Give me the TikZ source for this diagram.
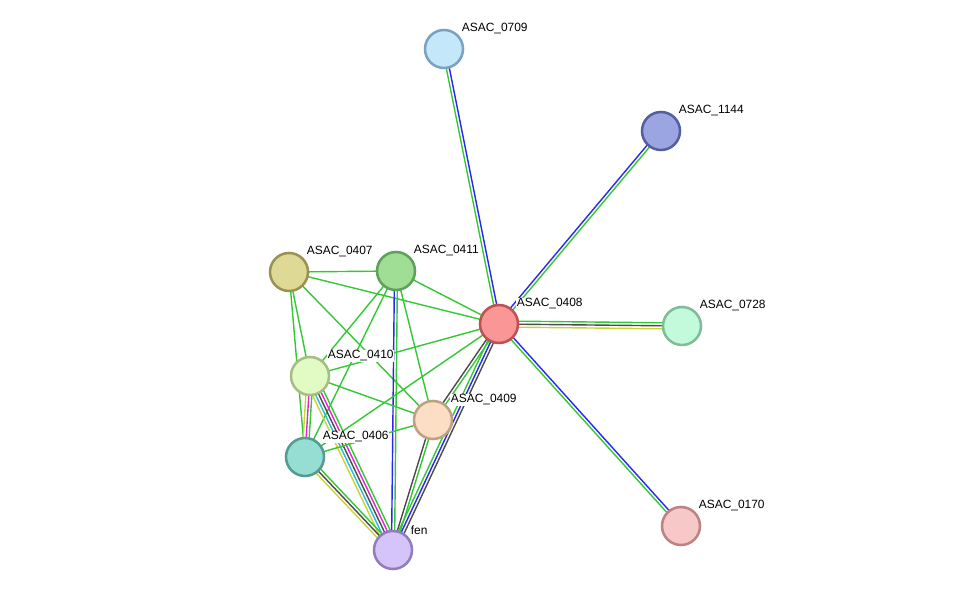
\documentclass[tikz,border=0pt]{standalone}
\usepackage{fontspec}
\setmainfont{Liberation Sans}
\usetikzlibrary{calc, backgrounds}

\definecolor{lgreen}{RGB}{52,200,52}
\definecolor{lblue}{RGB}{40,40,245}
\definecolor{lgrey}{RGB}{75,75,75}
\definecolor{lyellow}{RGB}{200,212,50}
\definecolor{lmagenta}{RGB}{225,40,205}
\definecolor{lcyan}{RGB}{40,185,225}

% parallel evidence lines between two proteins: from, to, count, colours
\newcommand{\linkedge}[4]{%
  \foreach \c [count=\i] in {#4} {
    \pgfmathsetmacro{\off}{(\i-(#3+1)/2)*0.075}
    \draw[link,\c] ($(#1)!\off cm!90:(#2)$) -- ($(#2)!\off cm!-90:(#1)$);
  }}

\begin{document}
\begin{tikzpicture}[
    x=0.025cm, y=-0.025cm,
    font=\fontsize{8.5}{10}\selectfont,
    prot/.style = {circle, line width=1.8pt, minimum size=0.95cm, inner sep=0pt},
    link/.style = {line width=1pt},
    lbl/.style  = {anchor=west, fill=white, inner sep=0.4pt}
  ]
  \useasboundingbox (0,0) rectangle (975,596);

  % --- proteins ---
  \node[prot, draw={rgb,255:red,122;green,162;blue,192}, fill={rgb,255:red,196;green,232;blue,250}] (p0709) at (444,49)  {};
  \node[prot, draw={rgb,255:red,85;green,95;blue,160},   fill={rgb,255:red,155;green,165;blue,226}] (p1144) at (661,131) {};
  \node[prot, draw={rgb,255:red,190;green,82;blue,82},   fill={rgb,255:red,250;green,150;blue,150}] (p0408) at (499,324) {};
  \node[prot, draw={rgb,255:red,125;green,190;blue,150}, fill={rgb,255:red,196;green,250;blue,220}] (p0728) at (682,326) {};
  \node[prot, draw={rgb,255:red,190;green,130;blue,130}, fill={rgb,255:red,246;green,200;blue,200}] (p0170) at (681,526) {};
  \node[prot, draw={rgb,255:red,152;green,147;blue,82},  fill={rgb,255:red,222;green,218;blue,150}] (p0407) at (289,272) {};
  \node[prot, draw={rgb,255:red,95;green,160;blue,90},   fill={rgb,255:red,160;green,222;blue,150}] (p0411) at (396,271) {};
  \node[prot, draw={rgb,255:red,165;green,190;blue,130}, fill={rgb,255:red,226;green,250;blue,196}] (p0410) at (310,376) {};
  \node[prot, draw={rgb,255:red,190;green,160;blue,130}, fill={rgb,255:red,252;green,222;blue,196}] (p0409) at (433,420) {};
  \node[prot, draw={rgb,255:red,85;green,155;blue,145},  fill={rgb,255:red,150;green,222;blue,212}] (p0406) at (305,457) {};
  \node[prot, draw={rgb,255:red,145;green,125;blue,190}, fill={rgb,255:red,212;green,196;blue,250}] (pfen)  at (393,550) {};

  % --- interactions ---
  \begin{scope}[on background layer]
    \linkedge{p0709}{p0408}{2}{lgreen,lblue}
    \linkedge{p1144}{p0408}{2}{lblue,lgreen}
    \linkedge{p0408}{p0728}{3}{lyellow,lgrey,lgreen}
    \linkedge{p0408}{p0170}{2}{lgreen,lblue}
    \linkedge{p0407}{p0411}{1}{lgreen}
    \linkedge{p0407}{p0408}{1}{lgreen}
    \linkedge{p0407}{p0410}{1}{lgreen}
    \linkedge{p0407}{p0406}{1}{lgreen}
    \linkedge{p0407}{p0409}{1}{lgreen}
    \linkedge{p0411}{p0408}{1}{lgreen}
    \linkedge{p0411}{p0410}{1}{lgreen}
    \linkedge{p0411}{p0406}{1}{lgreen}
    \linkedge{p0411}{p0409}{1}{lgreen}
    \linkedge{p0411}{pfen}{2}{lblue,lgreen}
    \linkedge{p0410}{p0408}{1}{lgreen}
    \linkedge{p0410}{p0409}{1}{lgreen}
    \linkedge{p0410}{p0406}{3}{lyellow,lmagenta,lgreen}
    \linkedge{p0410}{pfen}{5}{lyellow,lcyan,lgrey,lmagenta,lgreen}
    \linkedge{p0406}{p0408}{1}{lgreen}
    \linkedge{p0406}{p0409}{1}{lgreen}
    \linkedge{p0406}{pfen}{3}{lyellow,lgrey,lgreen}
    \linkedge{p0409}{p0408}{2}{lgreen,lgrey}
    \linkedge{p0409}{pfen}{2}{lgrey,lgreen}
    \linkedge{p0408}{pfen}{3}{lgreen,lblue,lgrey}
  \end{scope}

  % --- labels ---
  \node[lbl] (t0709) at ($(p0709)+(17,-20)$) {ASAC\_0709};
  \node[lbl] (t1144) at ($(p1144)+(17,-20)$) {ASAC\_1144};
  \node[lbl] (t0408) at ($(p0408)+(17,-20)$) {ASAC\_0408};
  \node[lbl] (t0728) at ($(p0728)+(17,-20)$) {ASAC\_0728};
  \node[lbl] (t0170) at ($(p0170)+(17,-20)$) {ASAC\_0170};
  \node[lbl] (t0407) at ($(p0407)+(17,-20)$) {ASAC\_0407};
  \node[lbl] (t0411) at ($(p0411)+(17,-20)$) {ASAC\_0411};
  \node[lbl] (t0410) at ($(p0410)+(17,-20)$) {ASAC\_0410};
  \node[lbl] (t0409) at ($(p0409)+(17,-20)$) {ASAC\_0409};
  \node[lbl] (t0406) at ($(p0406)+(17,-20)$) {ASAC\_0406};
  \node[lbl] (tfen)  at ($(pfen)+(17,-20)$)  {fen};

\end{tikzpicture}
\end{document}
